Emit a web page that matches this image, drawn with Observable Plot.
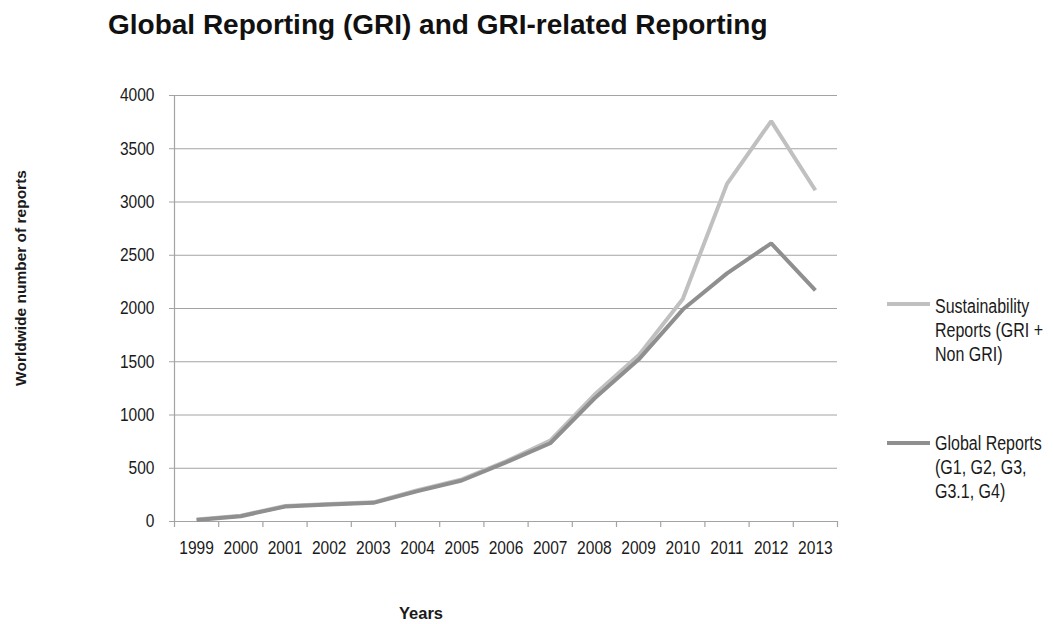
<!DOCTYPE html>
<html>
<head>
<meta charset="utf-8">
<script src="https://cdn.jsdelivr.net/npm/d3@7"></script>
<script src="https://cdn.jsdelivr.net/npm/@observablehq/plot@0.6"></script>
<style>
  body { margin: 0; background: #fff; }
  #wrap { position: relative; width: 1053px; height: 624px; overflow: hidden;
          font-family: "Liberation Sans", Arial, sans-serif; color: #1a1a1a; }
  #title { height: 70px; box-sizing: border-box; padding-left: 108px; padding-top: 11px;
           font-size: 28px; font-weight: bold; line-height: 28px; white-space: nowrap; color: #111; }
  .abs { position: absolute; white-space: nowrap; }
  #ylab { left: 21px; top: 278px; transform: translate(-50%, -50%) rotate(-90deg);
          font-size: 15.5px; font-weight: bold; }
  #xlab { left: 421px; top: 613px; transform: translate(-50%, -50%); font-size: 16.5px; font-weight: bold; }
  .leg { position: absolute; font-size: 19.5px; line-height: 24px; width: 142px; white-space: normal;
         transform: scaleX(0.82); transform-origin: left top; }
  .sw { position: absolute; width: 43px; height: 4px; }
</style>
</head>
<body>
<div id="wrap">
  <div id="title"></div>
  <div id="chart"></div>
  <div id="ylab" class="abs"></div>
  <div id="xlab" class="abs"></div>
  <div id="legend"></div>
</div>
<script>
const titleText = "Global Reporting (GRI) and GRI-related Reporting";
const yTitle = "Worldwide number of reports";
const xTitle = "Years";

const years = [1999, 2000, 2001, 2002, 2003, 2004, 2005, 2006, 2007, 2008, 2009, 2010, 2011, 2012, 2013];
const sustainabilityReports = [20, 55, 145, 165, 180, 295, 395, 565, 760, 1190, 1560, 2090, 3170, 3760, 3110];
const globalReports = [15, 50, 140, 160, 175, 285, 385, 555, 735, 1155, 1520, 1990, 2330, 2612, 2170];
const seriesNames = ["Sustainability Reports (GRI + Non GRI)", "Global Reports (G1, G2, G3, G3.1, G4)"];
const seriesColors = ["#c0c0c0", "#8f8f8f"];
const yTicks = [0, 500, 1000, 1500, 2000, 2500, 3000, 3500, 4000];

const rows = [];
years.forEach((yr, i) => rows.push({year: yr, value: sustainabilityReports[i], series: seriesNames[0]}));
years.forEach((yr, i) => rows.push({year: yr, value: globalReports[i], series: seriesNames[1]}));
const boundaries = [years[0] - 0.5, ...years.map(y => y + 0.5)];

document.getElementById("title").textContent = titleText;
document.getElementById("ylab").textContent = yTitle;
document.getElementById("xlab").textContent = xTitle;

const chart = Plot.plot({
  width: 1053,
  height: 554,
  marginTop: 25,
  marginBottom: 103,
  marginLeft: 174,
  marginRight: 216,
  style: {fontFamily: '"Liberation Sans", Arial, sans-serif', fontSize: "18.5px", color: "#1a1a1a", background: "white"},
  x: {type: "linear", domain: [boundaries[0], boundaries[boundaries.length - 1]], axis: null, label: null},
  y: {domain: [0, 4000], axis: null, label: null},
  color: {domain: seriesNames, range: seriesColors},
  marks: [
    Plot.gridY(yTicks, {stroke: "#a3a3a3", strokeOpacity: 1, strokeWidth: 1.2, insetLeft: -5}),
    Plot.ruleX([boundaries[0]], {stroke: "#a3a3a3", strokeWidth: 1.2}),
    Plot.axisX({ticks: boundaries, tickFormat: () => "", tickSize: 6, stroke: "#a3a3a3", strokeWidth: 1.2, label: null}),
    Plot.axisX({ticks: years, tickSize: 0, tickPadding: 19, tickFormat: d => String(d), fill: "#1a1a1a", label: null}),
    Plot.axisY({ticks: yTicks, tickSize: 0, tickPadding: 20, tickFormat: d => String(d), fill: "#1a1a1a", label: null}),
    Plot.line(rows, {x: "year", y: "value", stroke: "series", strokeWidth: 4, strokeLinejoin: "miter", strokeLinecap: "butt"})
  ]
});
document.getElementById("chart").appendChild(chart);

// narrow-font look for tick labels
chart.querySelectorAll("text").forEach(t => {
  const w = t.getComputedTextLength();
  if (w > 0) {
    t.setAttribute("textLength", (w * 0.84).toFixed(2));
    t.setAttribute("lengthAdjust", "spacingAndGlyphs");
  }
});

// legend
const legend = document.getElementById("legend");
const legendTop = [294, 431];
const swatchY = [302, 441];
seriesNames.forEach((name, i) => {
  const sw = document.createElement("div");
  sw.className = "sw";
  sw.style.left = "887px";
  sw.style.top = swatchY[i] + "px";
  sw.style.background = seriesColors[i];
  legend.appendChild(sw);
  const t = document.createElement("div");
  t.className = "leg";
  t.style.left = "935px";
  t.style.top = legendTop[i] + "px";
  t.textContent = name;
  legend.appendChild(t);
});
</script>
</body>
</html>
